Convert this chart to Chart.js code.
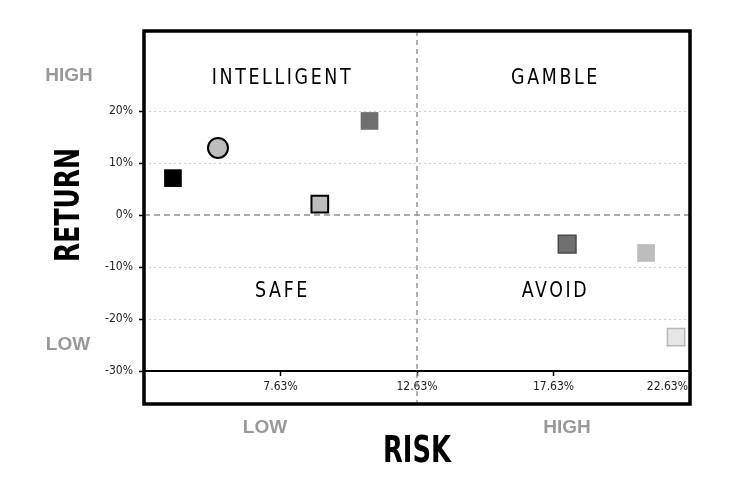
<!DOCTYPE html>
<html>
<head>
<meta charset="utf-8">
<script src="https://cdn.jsdelivr.net/npm/chart.js@4"></script>
<style>
  html, body { margin: 0; padding: 0; background: #fff; }
  #wrap { width: 750px; height: 486px; }
</style>
</head>
<body>
<div id="wrap"><canvas id="riskChart"></canvas></div>
<script>
// Risk / return quadrant chart

// one entry per holding: x = risk %, y = return %
const riskValues   = [3.69, 5.34, 9.07, 10.89, 18.13, 21.02, 22.12];
const returnValues = [7.1, 12.9, 2.1, 18.1, -5.6, -7.3, -23.5];
const pointShapes  = ['rect', 'circle', 'rect', 'rect', 'rect', 'rect', 'rect'];
const fillColors   = ['#000000', '#bdbdbd', '#bdbdbd', '#6f6f6f', '#6f6f6f', '#bdbdbd', '#e6e6e6'];
const edgeColors   = ['#000000', '#000000', '#000000', '#6f6f6f', '#4a4a4a', '#bdbdbd', '#b8b8b8'];
const edgeWidths   = [0, 2, 2, 0, 1.5, 0, 1.5];
const pointSizes   = [12.5, 10, 11.8, 12.5, 12.5, 12.5, 12.2];

const xTicks = [2.63, 7.63, 12.63, 17.63, 22.63];
const yTicks = [-30, -20, -10, 0, 10, 20];
const xRange = [2.63, 22.63];
const yRange = [-30, 35.4];
const riskSplit = 12.63;
const returnSplit = 0;
const quadrantNames = ['INTELLIGENT', 'GAMBLE', 'SAFE', 'AVOID'];

const NARROW = '"Liberation Sans Narrow", "DejaVu Sans Condensed", sans-serif';
const SANS = '"Liberation Sans", Arial, sans-serif';

const points = riskValues.map((x, i) => ({ x: x, y: returnValues[i] }));

// squeeze text horizontally a bit, the original uses a condensed face
function narrowText(ctx, text, x, y, squeeze) {
    const w = ctx.measureText(text).width;
    ctx.fillText(text, x, y, w * squeeze);
}

const quadrantPlugin = {
    id: 'quadrants',
    beforeDraw(chart) {
        // keep the last risk label inside the frame
        const xs = chart.scales.x;
        const items = xs.getLabelItems(chart.chartArea);
        const last = items[items.length - 1];
        if (last) {
            last.options.textAlign = 'right';
            last.options.translation = [xs.right - 2, last.options.translation[1]];
        }
    },
    beforeDatasetsDraw(chart) {
        const { ctx, chartArea, scales } = chart;
        const x0 = scales.x.getPixelForValue(riskSplit);
        const y0 = scales.y.getPixelForValue(returnSplit);
        ctx.save();
        // zero return line
        ctx.strokeStyle = '#adadad';
        ctx.lineWidth = 2;
        ctx.setLineDash([6, 4]);
        ctx.beginPath();
        ctx.moveTo(chartArea.left, y0);
        ctx.lineTo(chartArea.right, y0);
        ctx.stroke();
        // risk split line, runs down through the tick labels
        ctx.strokeStyle = '#999';
        ctx.lineWidth = 1.5;
        ctx.setLineDash([5, 4]);
        ctx.beginPath();
        ctx.moveTo(x0, chartArea.top);
        ctx.lineTo(x0, chartArea.bottom + 33);
        ctx.stroke();
        ctx.restore();
    },
    afterDraw(chart) {
        const { ctx, chartArea, scales } = chart;
        const x0 = scales.x.getPixelForValue(riskSplit);
        const y0 = scales.y.getPixelForValue(returnSplit);
        const L = chartArea.left, R = chartArea.right, T = chartArea.top, B = chartArea.bottom;
        ctx.save();

        // frame
        ctx.strokeStyle = '#000';
        ctx.lineWidth = 3.5;
        ctx.strokeRect(L, T, R - L, B + 33 - T);

        // quadrant names
        ctx.fillStyle = '#000';
        ctx.font = '22px ' + NARROW;
        ctx.letterSpacing = '3px';
        ctx.textAlign = 'center';
        ctx.textBaseline = 'middle';
        const cxL = (L + x0) / 2, cxR = (x0 + R) / 2;
        narrowText(ctx, quadrantNames[0], cxL + 2, T + 47, 0.88);
        narrowText(ctx, quadrantNames[1], cxR + 2, T + 47, 0.88);
        narrowText(ctx, quadrantNames[2], cxL + 2, y0 + 76, 0.88);
        narrowText(ctx, quadrantNames[3], cxR + 2, y0 + 76, 0.88);
        ctx.letterSpacing = '0px';

        // axis titles
        ctx.font = 'bold 37px ' + NARROW;
        ctx.fillText('RISK', (L + R) / 2, 452, 68);
        ctx.save();
        ctx.translate(70, 205);
        ctx.rotate(-Math.PI / 2);
        ctx.font = 'bold 33px ' + NARROW;
        ctx.fillText('RETURN', 0, 0, 114);
        ctx.restore();

        // low / high hints
        ctx.fillStyle = '#999';
        ctx.font = 'bold 19px ' + SANS;
        ctx.fillText('HIGH', 69, 76);
        ctx.fillText('LOW', 68, 345);
        ctx.fillText('LOW', 265, 428);
        ctx.fillText('HIGH', 567, 428);
        ctx.restore();
    }
};

new Chart(document.getElementById('riskChart'), {
    type: 'scatter',
    data: {
        datasets: [{
            data: points,
            pointStyle: pointShapes,
            pointRadius: pointSizes,
            pointHoverRadius: pointSizes,
            backgroundColor: fillColors,
            borderColor: edgeColors,
            borderWidth: edgeWidths
        }]
    },
    options: {
        responsive: true,
        maintainAspectRatio: false,
        animation: false,
        layout: { padding: { top: 31, right: 60, left: 0, bottom: 0 } },
        plugins: {
            legend: { display: false },
            tooltip: { enabled: false }
        },
        scales: {
            x: {
                type: 'linear',
                min: xRange[0],
                max: xRange[1],
                afterBuildTicks: (s) => { s.ticks = xTicks.map(v => ({ value: v })); },
                afterFit: (s) => { s.height = 115; },
                border: { display: true, color: '#000', width: 2 },
                grid: {
                    color: 'rgba(0,0,0,0)',
                    tickColor: (c) => c.index === 0 ? 'rgba(0,0,0,0)' : '#000',
                    tickLength: 5,
                    tickWidth: 1.5
                },
                ticks: {
                    color: '#222',
                    padding: 4,
                    maxRotation: 0,
                    autoSkip: false,
                    font: { family: NARROW, size: 12 },
                    callback: (v, i) => i === 0 ? '' : v.toFixed(2) + '%'
                }
            },
            y: {
                type: 'linear',
                min: yRange[0],
                max: yRange[1],
                afterBuildTicks: (s) => { s.ticks = yTicks.map(v => ({ value: v })); },
                afterFit: (s) => { s.width = 144; },
                border: { display: false, dash: [2, 3] },
                grid: {
                    color: (c) => (c.tick && (c.tick.value === 0 || c.tick.value === -30)) ? 'rgba(0,0,0,0)' : '#cfcfcf',
                    tickColor: '#000',
                    tickLength: 5,
                    tickWidth: 1.5,
                    lineWidth: 1
                },
                ticks: {
                    color: '#222',
                    padding: 6,
                    font: { family: NARROW, size: 12 },
                    callback: (v) => v + '%'
                }
            }
        }
    },
    plugins: [quadrantPlugin]
});
</script>
</body>
</html>
